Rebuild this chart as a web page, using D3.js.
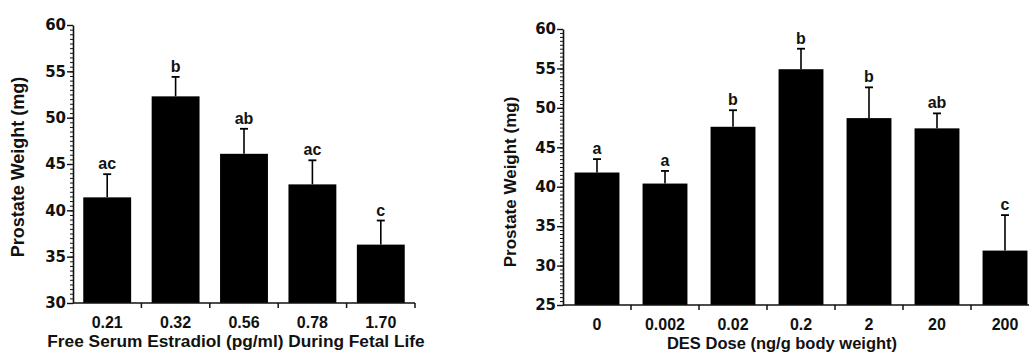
<!DOCTYPE html>
<html>
<head>
<meta charset="utf-8">
<script src="https://cdn.jsdelivr.net/npm/d3@7"></script>
<style>
  html, body { margin: 0; padding: 0; background: #fff; }
  svg { display: block; }
  text { font-family: "Liberation Sans", Arial, Helvetica, sans-serif; fill: #111; }
  .num { font-family: "DejaVu Sans", "Liberation Sans", sans-serif; }
</style>
</head>
<body>
<svg id="chart" width="1029" height="356"></svg>
<script>
// Panel A: free serum estradiol during fetal life
const estradiolLevels = ["0.21", "0.32", "0.56", "0.78", "1.70"];
const estradiolMeans  = [41.4, 52.3, 46.1, 42.8, 36.3];
const estradiolErrTop = [43.9, 54.4, 48.8, 45.4, 38.9];
const estradiolGroups = ["ac", "b", "ab", "ac", "c"];
const estradiolTicks  = [30, 35, 40, 45, 50, 55, 60];

// Panel B: DES dose
const desDoses   = ["0", "0.002", "0.02", "0.2", "2", "20", "200"];
const desMeans   = [41.8, 40.4, 47.6, 54.9, 48.7, 47.4, 31.9];
const desErrTop  = [43.5, 42.0, 49.7, 57.5, 52.6, 49.3, 36.4];
const desGroups  = ["a", "a", "b", "b", "b", "ab", "c"];
const desTicks   = [25, 30, 35, 40, 45, 50, 55, 60];

const svg = d3.select("#chart");

function drawPanel(cfg) {
  const g = svg.append("g");
  const x = d3.scaleBand()
    .domain(cfg.cats)
    .range([cfg.x0, cfg.x0 + cfg.step * cfg.cats.length])
    .paddingInner(cfg.pad).paddingOuter(cfg.pad / 2);
  const y = d3.scaleLinear().domain(cfg.yDomain).range([cfg.yBottom, cfg.yTop]);

  // minor ticks every 0.5 mg
  const minor = d3.range(cfg.yDomain[0], cfg.yDomain[1] + 0.001, 0.5);
  g.append("g")
    .attr("transform", `translate(${cfg.x0},0)`)
    .call(d3.axisLeft(y).tickValues(minor).tickSize(3).tickFormat(""))
    .call(a => a.select(".domain").remove())
    .call(a => a.selectAll("line").attr("stroke", "#111").attr("stroke-width", 1));

  // major y axis
  g.append("g")
    .attr("transform", `translate(${cfg.x0},0)`)
    .call(d3.axisLeft(y).tickValues(cfg.yTicks).tickSize(6).tickSizeOuter(0).tickPadding(1))
    .call(a => a.select(".domain").attr("stroke", "#111").attr("stroke-width", 1.6))
    .call(a => a.selectAll("line").attr("stroke", "#111").attr("stroke-width", 1.4))
    .call(a => a.selectAll("text").attr("class", "num")
      .attr("font-size", 15).attr("font-weight", "bold"));

  // bars
  g.selectAll("rect.bar").data(cfg.cats).join("rect")
    .attr("class", "bar")
    .attr("x", d => x(d))
    .attr("width", x.bandwidth())
    .attr("y", (d, i) => y(cfg.means[i]))
    .attr("height", (d, i) => cfg.yBottom - y(cfg.means[i]))
    .attr("fill", "#000");

  // error bars
  const cx = d => x(d) + x.bandwidth() / 2;
  g.selectAll("line.err").data(cfg.cats).join("line")
    .attr("class", "err")
    .attr("x1", cx).attr("x2", cx)
    .attr("y1", (d, i) => y(cfg.means[i]))
    .attr("y2", (d, i) => y(cfg.err[i]))
    .attr("stroke", "#000").attr("stroke-width", 1.6);
  g.selectAll("line.cap").data(cfg.cats).join("line")
    .attr("class", "cap")
    .attr("x1", d => cx(d) - 4).attr("x2", d => cx(d) + 4)
    .attr("y1", (d, i) => y(cfg.err[i]))
    .attr("y2", (d, i) => y(cfg.err[i]))
    .attr("stroke", "#000").attr("stroke-width", 1.8);

  // significance letters
  g.selectAll("text.grp").data(cfg.cats).join("text")
    .attr("class", "grp")
    .attr("x", cx)
    .attr("y", (d, i) => y(cfg.err[i]) - 5)
    .attr("text-anchor", "middle")
    .attr("font-size", 16).attr("font-weight", "bold")
    .text((d, i) => cfg.groups[i]);

  // x axis: ticks at band boundaries
  const x1 = cfg.x0 + cfg.step * cfg.cats.length;
  g.append("line")
    .attr("x1", cfg.x0).attr("x2", x1)
    .attr("y1", cfg.yBottom).attr("y2", cfg.yBottom)
    .attr("stroke", "#111").attr("stroke-width", 1.6);
  const bounds = d3.range(1, cfg.cats.length + 1).map(i => cfg.x0 + cfg.step * i);
  g.selectAll("line.xt").data(bounds).join("line")
    .attr("class", "xt")
    .attr("x1", d => d).attr("x2", d => d)
    .attr("y1", cfg.yBottom).attr("y2", cfg.yBottom + 5)
    .attr("stroke", "#111").attr("stroke-width", 1.5);
  g.selectAll("text.xl").data(cfg.cats).join("text")
    .attr("class", "xl")
    .attr("x", cx)
    .attr("y", cfg.yBottom + 25)
    .attr("text-anchor", "middle")
    .attr("font-size", 16).attr("font-weight", "bold")
    .text(d => d);

  // axis titles
  g.append("text")
    .attr("x", cfg.titleX).attr("y", cfg.titleY)
    .attr("text-anchor", "middle")
    .attr("font-size", cfg.titleSize).attr("font-weight", "bold")
    .text(cfg.xTitle);
  g.append("text")
    .attr("transform", `translate(${cfg.yTitleX},${cfg.yTitleY}) rotate(-90)`)
    .attr("text-anchor", "middle")
    .attr("font-size", cfg.yTitleSize).attr("font-weight", "bold")
    .text("Prostate Weight (mg)");
}

drawPanel({
  cats: estradiolLevels, means: estradiolMeans, err: estradiolErrTop, groups: estradiolGroups,
  yDomain: [30, 60], yTicks: estradiolTicks,
  x0: 73, step: 68.4, pad: 0.3, yTop: 25, yBottom: 303,
  xTitle: "Free Serum Estradiol (pg/ml) During Fetal Life", titleX: 236, titleY: 347, titleSize: 17.3,
  yTitleX: 24, yTitleY: 167, yTitleSize: 18
});

drawPanel({
  cats: desDoses, means: desMeans, err: desErrTop, groups: desGroups,
  yDomain: [25, 60], yTicks: desTicks,
  x0: 563, step: 68, pad: 0.34, yTop: 29, yBottom: 305,
  xTitle: "DES Dose (ng/g body weight)", titleX: 782, titleY: 349, titleSize: 16.5,
  yTitleX: 516, yTitleY: 182, yTitleSize: 17
});
</script>
</body>
</html>
